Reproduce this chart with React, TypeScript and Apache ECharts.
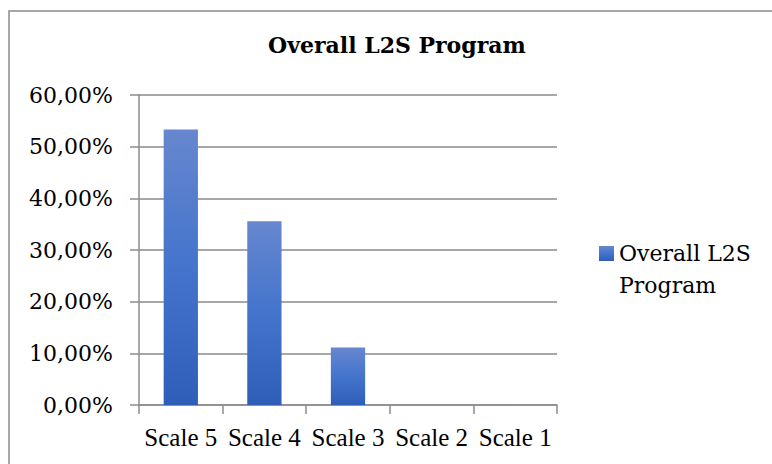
import React, { useEffect, useRef } from "react";
import * as echarts from "echarts";

const categories = ["Scale 5", "Scale 4", "Scale 3", "Scale 2", "Scale 1"];
const values = [0.5333, 0.3556, 0.1111, 0, 0];
const seriesName = "Overall L2S Program";
const titleText = "Overall L2S Program";

const fmtPct = (v: number) => (v * 100).toFixed(2).replace(".", ",") + "%";

export default function App() {
  const ref = useRef<HTMLDivElement>(null);
  useEffect(() => {
    if (!ref.current) return;
    const chart = echarts.init(ref.current, null, { renderer: "svg" });
    chart.setOption({
      animation: false,
      backgroundColor: "#fff",
      title: {
        text: titleText,
        left: 268,
        top: 34,
        padding: 0,
        textStyle: {
          fontFamily: "DejaVu Serif",
          fontWeight: "bold",
          fontSize: 22,
          color: "#000",
        },
      },
      graphic: [
        {
          type: "rect",
          z: -1,
          shape: { x: 9, y: 11, width: 800, height: 500 },
          style: { fill: "transparent", stroke: "#8a8a8a", lineWidth: 1.5 },
        },
      ],
      legend: {
        left: 599,
        top: 205.5,
        padding: 0,
        itemWidth: 15,
        itemHeight: 15,
        icon: "rect",
        formatter: () => "\nOverall L2S\nProgram",
        textStyle: {
          fontFamily: "DejaVu Serif",
          fontSize: 22,
          lineHeight: 32,
          color: "#000",
        },
        data: [seriesName],
      },
      grid: { left: 139, right: 215, top: 95, bottom: 59, containLabel: false },
      xAxis: {
        type: "category",
        data: categories,
        axisLine: { lineStyle: { color: "#8c8c8c", width: 1.5 } },
        axisTick: { show: true, length: 9, lineStyle: { color: "#8c8c8c", width: 1.5 } },
        axisLabel: {
          interval: 0,
          margin: 20,
          fontFamily: "Liberation Serif",
          fontSize: 25,
          color: "#000",
        },
      },
      yAxis: {
        type: "value",
        min: 0,
        max: 0.6,
        interval: 0.1,
        axisLine: { show: true, lineStyle: { color: "#8c8c8c", width: 1.5 } },
        axisTick: { show: true, length: 9, lineStyle: { color: "#8c8c8c", width: 1.5 } },
        splitLine: { show: true, lineStyle: { color: "#8a8a8a", width: 1.5 } },
        axisLabel: {
          margin: 26,
          formatter: fmtPct,
          fontFamily: "DejaVu Serif",
          fontSize: 22,
          color: "#000",
        },
      },
      series: [
        {
          name: seriesName,
          type: "bar",
          data: values,
          barCategoryGap: "59%",
          itemStyle: {
            color: new echarts.graphic.LinearGradient(0, 0, 0, 1, [
              { offset: 0, color: "#6787cf" },
              { offset: 0.5, color: "#4474cc" },
              { offset: 1, color: "#2e5eb8" },
            ]),
          },
        },
      ],
    });
    return () => chart.dispose();
  }, []);
  return (
    <div
      ref={ref}
      style={{ position: "absolute", left: 0, top: 0, width: 772, height: 464 }}
    />
  );
}
